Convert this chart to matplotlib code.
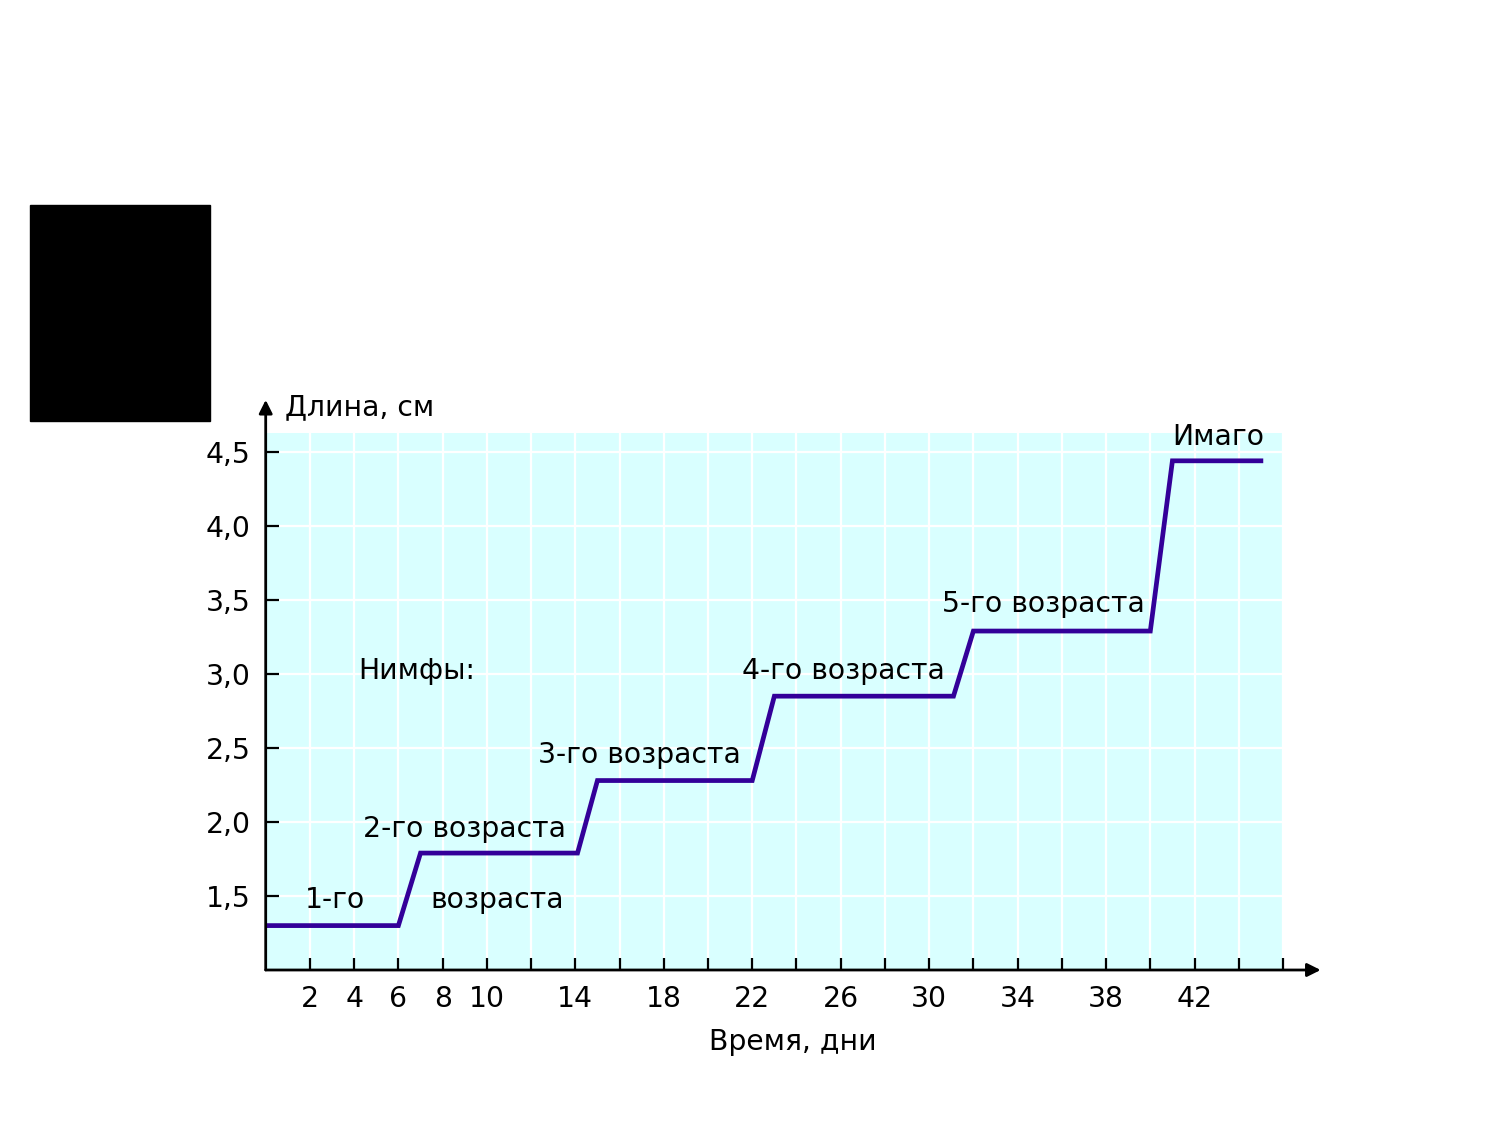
import matplotlib
matplotlib.use("Agg")
import matplotlib.pyplot as plt
from matplotlib.patches import Rectangle

# growth of nymph length over time
days = [0, 6, 7, 14.1, 15, 22, 23, 31.1, 32, 40, 41, 45]
length_cm = [1.3, 1.3, 1.79, 1.79, 2.28, 2.28, 2.85, 2.85, 3.29, 3.29, 4.44, 4.44]

x_ticks = list(range(2, 47, 2))
x_labelled = [2, 4, 6, 8, 10, 14, 18, 22, 26, 30, 34, 38, 42]
y_ticks = [1.5, 2.0, 2.5, 3.0, 3.5, 4.0, 4.5]
y_labels = ["1,5", "2,0", "2,5", "3,0", "3,5", "4,0", "4,5"]

stage_labels = ["Нимфы:", "1-го", "возраста", "2-го возраста", "3-го возраста",
                "4-го возраста", "5-го возраста", "Имаго"]
label_x = [4.17, 1.78, 7.43, 4.40, 12.31, 21.53, 30.57, 41.0]
label_y = [3.02, 1.475, 1.475, 1.95, 2.45, 3.02, 3.47, 4.60]

plt.rcParams["font.family"] = ["DejaVu Sans"]
plt.rcParams["font.size"] = 20.3

fig = plt.figure(figsize=(15, 11.25), dpi=100)
fig.patches.append(Rectangle((30 / 1500, 1 - 421 / 1125), 180 / 1500, 216 / 1125,
                             transform=fig.transFigure, color="black", zorder=0))

ax = fig.add_axes([265.7 / 1500, 1 - 970 / 1125, 1017.3 / 1500, 537.3 / 1125])
ax.set_facecolor("#d9ffff")

ax.plot(days, length_cm, color="#330099", lw=3.4, solid_joinstyle="miter", zorder=3)

ax.set_xlim(0, 46)
ax.set_ylim(1.0, 4.63)

ax.set_xticks(x_ticks)
ax.set_xticklabels([str(t) if t in x_labelled else "" for t in x_ticks])
ax.set_yticks(y_ticks)
ax.set_yticklabels(y_labels)

ax.tick_params(direction="in", length=9, width=1.6, color="black", pad=11)
ax.grid(True, color="white", lw=1.6)
ax.set_axisbelow(True)

for side in ["top", "right", "left", "bottom"]:
    ax.spines[side].set_visible(False)

# axes with arrow heads
ax.annotate("", xy=(0, 1.061), xytext=(0, 0), xycoords="axes fraction",
            arrowprops=dict(arrowstyle="-|>", color="black", lw=2,
                            mutation_scale=20, shrinkA=0, shrinkB=0))
ax.annotate("", xy=(1.037, 0), xytext=(0, 0), xycoords="axes fraction",
            arrowprops=dict(arrowstyle="-|>", color="black", lw=2,
                            mutation_scale=20, shrinkA=0, shrinkB=0))

for text, lx, ly in zip(stage_labels, label_x, label_y):
    ax.text(lx, ly, text, ha="left", va="center", color="black", zorder=4)

ax.text(0.87, 4.80, "Длина, см", ha="left", va="center", clip_on=False)
ax.text(0.518, -0.134, "Время, дни", ha="center", va="center",
        transform=ax.transAxes, clip_on=False)

fig.savefig("out.png", dpi=100)
